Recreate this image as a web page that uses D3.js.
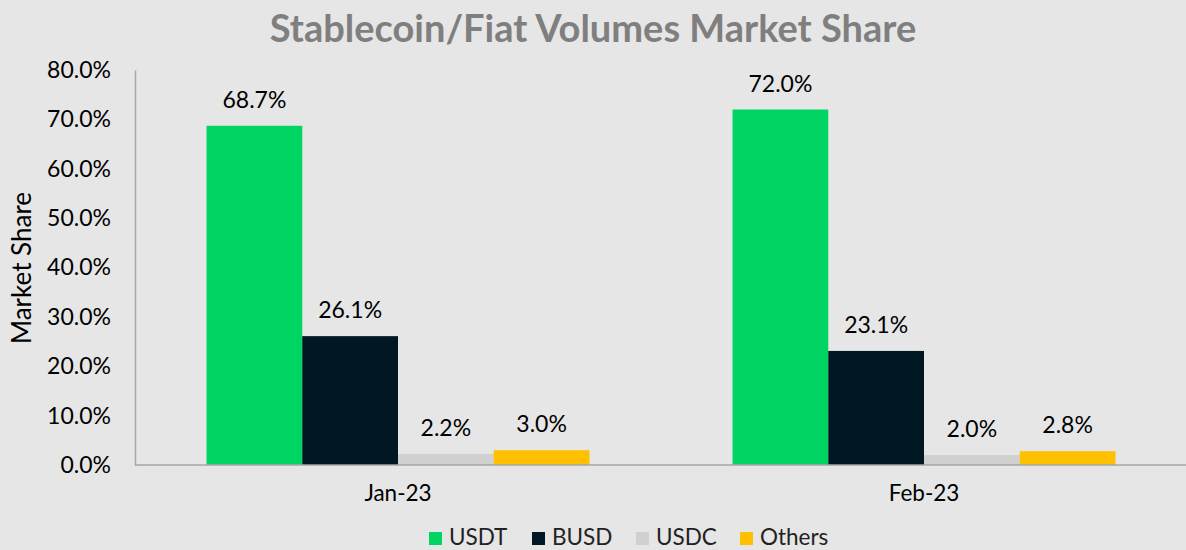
<!DOCTYPE html>
<html><head><meta charset="utf-8">
<script src="https://cdn.jsdelivr.net/npm/d3@7"></script>
<style>body{margin:0;background:#E6E6E6;} svg{display:block;font-family:Lato,"Open Sans",sans-serif;}</style>
</head><body>
<svg id="c" width="1186" height="550"></svg>
<script>
const categories = ["Jan-23", "Feb-23"];
const seriesNames = ["USDT", "BUSD", "USDC", "Others"];
const USDT = [68.7, 72.0];
const BUSD = [26.1, 23.1];
const USDC = [2.2, 2.0];
const Others = [3.0, 2.8];
const yTicks = [0, 10, 20, 30, 40, 50, 60, 70, 80];
const colors = ["#00D564", "#011724", "#D0D0D0", "#FFC000"];
const values = [USDT, BUSD, USDC, Others];

const svg = d3.select("#c");
svg.append("rect").attr("width",1186).attr("height",550).attr("fill","#E6E6E6");

const m = {left:135};
const x0 = d3.scaleBand().domain(categories).range([m.left, 1187]).paddingInner(0.272).paddingOuter(0.136);
const x1 = d3.scaleBand().domain(seriesNames).range([0, x0.bandwidth()]);
const y = d3.scaleLinear().domain([0, 80]).range([465, 70]);

// title
svg.append("text").attr("x", 593).attr("y", 42).attr("text-anchor","middle")
  .attr("font-size", 38).attr("font-weight", "bold").attr("fill", "#7F7F7F")
  .text("Stablecoin/Fiat Volumes Market Share");

// bars
categories.forEach((c, ci) => {
  seriesNames.forEach((s, si) => {
    const v = values[si][ci];
    svg.append("rect").attr("x", x0(c) + x1(s)).attr("y", y(v))
      .attr("width", x1.bandwidth()).attr("height", y(0) - y(v)).attr("fill", colors[si]);
    svg.append("text").attr("x", x0(c) + x1(s) + x1.bandwidth()/2).attr("y", y(v) - 18)
      .attr("text-anchor","middle").attr("font-size", 23).attr("fill","#000")
      .text(v.toFixed(1) + "%");
  });
});

// y axis
const yAxis = d3.axisLeft(y).tickValues(yTicks).tickSize(0).tickPadding(24).tickFormat(d => d.toFixed(1) + "%");
const ya = svg.append("g").attr("transform", `translate(${m.left},0)`).call(yAxis);
ya.select(".domain").attr("stroke", "#A6A6A6").attr("stroke-width", 1.5);
ya.selectAll("text").attr("font-size", 23).attr("fill", "#000").attr("font-family", "Lato");

// x axis
const xAxis = d3.axisBottom(x0).tickSize(0).tickPadding(20);
const xa = svg.append("g").attr("transform", `translate(0,${y(0)})`).call(xAxis);
xa.select(".domain").attr("stroke", "#A6A6A6").attr("stroke-width", 1.5).attr("d", `M${m.left},0H1186`);
xa.selectAll("text").attr("font-size", 22.5).attr("fill", "#000").attr("font-family", "Lato");

// y title
svg.append("text").attr("transform", "translate(31,268) rotate(-90)").attr("text-anchor","middle")
  .attr("font-size", 26).attr("fill", "#000").text("Market Share");

// legend
const legX = [429, 532, 636, 740];
seriesNames.forEach((s, i) => {
  svg.append("rect").attr("x", legX[i]).attr("y", 532).attr("width", 13).attr("height", 13).attr("fill", colors[i]);
  svg.append("text").attr("x", legX[i] + 20).attr("y", 545).attr("font-size", 22.5).attr("fill", "#222").text(s);
});
</script>
</body></html>
